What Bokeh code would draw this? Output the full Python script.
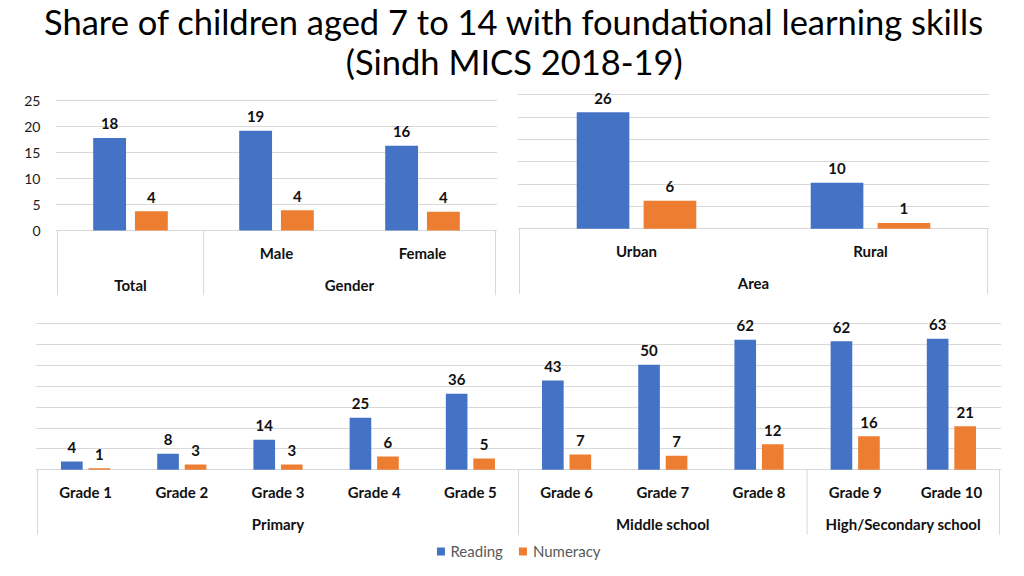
import numpy as np
from bokeh.plotting import figure
from bokeh.models import Range1d, FixedTicker, Grid, Legend, LegendItem
from bokeh.layouts import column, row
from bokeh.embed import file_html
from bokeh.resources import INLINE
from bokeh.core.properties import value

# ---------------- data ----------------
title_lines = ["Share of children aged 7 to 14 with foundational learning skills",
               "(Sindh MICS 2018-19)"]
series_names = ["Reading", "Numeracy"]

gender_subcats = ["", "Male", "Female"]
gender_groups = ["Total", "Gender"]
gender_group_sizes = [1, 2]
gender_reading = [17.8, 19.2, 16.3]
gender_numeracy = [3.7, 3.9, 3.6]
gender_ticks = [0, 5, 10, 15, 20, 25]

area_subcats = ["Urban", "Rural"]
area_groups = ["Area"]
area_group_sizes = [2]
area_reading = [26.1, 10.3]
area_numeracy = [6.3, 1.3]
area_ticks = [0, 5, 10, 15, 20, 25, 30]

grade_subcats = ["Grade 1", "Grade 2", "Grade 3", "Grade 4", "Grade 5",
                 "Grade 6", "Grade 7", "Grade 8", "Grade 9", "Grade 10"]
grade_groups = ["Primary", "Middle school", "High/Secondary school"]
grade_group_sizes = [5, 3, 2]
grade_reading = [4.0, 7.7, 14.4, 24.9, 36.4, 42.8, 50.3, 62.3, 61.6, 62.8]
grade_numeracy = [0.8, 2.6, 2.6, 6.4, 5.4, 7.3, 6.7, 12.3, 16.1, 20.9]
grade_ticks = [0, 10, 20, 30, 40, 50, 60, 70]

# ---------------- style ----------------
BLUE = "#4472C4"
ORANGE = "#ED7D31"
GRID = "#D9D9D9"
FONT = "Lato"
BAR_W = 0.225
BAR_OFF = 0.143
ROW1_PX = 22
ROW2_PX = 54
BOX_PX = 65
LABEL_PX = 14


def make_panel(width, height, bl, br, bt, bb, ppu, zero_from_bottom,
               subcats, groups, sizes, reading, numeracy, ticks, show_axis):
    n = len(subcats)
    frame_w = width - bl - br
    frame_h = height - bt - bb
    cat_px = (frame_w - 4) / n
    pad = 2 / cat_px
    y0 = -zero_from_bottom / ppu
    y1 = y0 + frame_h / ppu
    p = figure(width=width, height=height, output_backend="svg",
               toolbar_location=None,
               x_range=Range1d(-0.5 - pad, n - 0.5 + pad),
               y_range=Range1d(y0, y1),
               x_axis_location=None,
               y_axis_location="left" if show_axis else None,
               min_border_left=bl, min_border_right=br,
               min_border_top=bt, min_border_bottom=bb)
    p.outline_line_color = None
    p.background_fill_color = "white"
    p.border_fill_color = "white"
    for g in p.grid:
        g.visible = False
    if show_axis:
        ax = p.yaxis[0]
        ax.ticker = FixedTicker(ticks=ticks)
        ax.axis_line_color = None
        ax.major_tick_line_color = None
        ax.minor_tick_line_color = None
        ax.major_tick_out = 0
        ax.major_tick_in = 0
        ax.major_label_standoff = 15
        ax.major_label_text_font = FONT
        ax.major_label_text_font_size = "14px"
        ax.major_label_text_color = "#1a1a1a"
    p.add_layout(Grid(dimension=1, ticker=FixedTicker(ticks=ticks),
                      grid_line_color=GRID, grid_line_width=1))

    xs = np.arange(n)
    rr = p.vbar(x=xs - BAR_OFF, top=reading, width=BAR_W, bottom=0,
                fill_color=BLUE, line_color=None)
    rn = p.vbar(x=xs + BAR_OFF, top=numeracy, width=BAR_W, bottom=0,
                fill_color=ORANGE, line_color=None)

    lab_dy = LABEL_PX / ppu
    p.text(x=xs - BAR_OFF, y=np.array(reading) + lab_dy,
           text=["%.0f" % v for v in reading],
           text_font=value(FONT), text_font_style="bold", text_font_size="15px",
           text_align="center", text_baseline="middle", text_color="#111111")
    p.text(x=xs + BAR_OFF, y=np.array(numeracy) + lab_dy,
           text=["%.0f" % v for v in numeracy],
           text_font=value(FONT), text_font_style="bold", text_font_size="15px",
           text_align="center", text_baseline="middle", text_color="#111111")

    # category labels (first row)
    p.text(x=xs, y=[-ROW1_PX / ppu] * n, text=subcats,
           text_font=value(FONT), text_font_style="bold", text_font_size="15px",
           text_align="center", text_baseline="middle", text_color="#111111")
    # group labels (second row) and box separators
    edges = np.concatenate([[0], np.cumsum(sizes)]) - 0.5
    centers = (edges[:-1] + edges[1:]) / 2
    p.text(x=centers, y=[-ROW2_PX / ppu] * len(groups), text=groups,
           text_font=value(FONT), text_font_style="bold", text_font_size="15px",
           text_align="center", text_baseline="middle", text_color="#111111")
    p.segment(x0=edges, y0=[0] * len(edges), x1=edges,
              y1=[-BOX_PX / ppu] * len(edges), line_color=GRID, line_width=1)
    return p, rr, rn


# title figure (data units = pixels)
title_fig = figure(width=1016, height=90, output_backend="svg", toolbar_location=None,
                   x_range=Range1d(0, 1016), y_range=Range1d(0, 90),
                   x_axis_location=None, y_axis_location=None, min_border=0)
title_fig.outline_line_color = None
for g in title_fig.grid:
    g.visible = False
title_fig.text(x=[503.5, 503.5], y=[69, 29], text=title_lines,
               text_font=value(FONT), text_font_size="34.5px",
               text_align="center", text_baseline="alphabetic", text_color="#000000")

tl, _, _ = make_panel(510, 210, 55, 13, 0, 5, 5.2, 65,
                      gender_subcats, gender_groups, gender_group_sizes,
                      gender_reading, gender_numeracy, gender_ticks, True)
tr, _, _ = make_panel(506, 210, 7, 27, 0, 5, 4.467, 66.7,
                      area_subcats, area_groups, area_group_sizes,
                      area_reading, area_numeracy, area_ticks, False)
bt, r_read, r_num = make_panel(1016, 268, 35, 15, 5, 2, 2.086, 96.7,
                               grade_subcats, grade_groups, grade_group_sizes,
                               grade_reading, grade_numeracy, grade_ticks, False)

legend = Legend(items=[LegendItem(label=series_names[0], renderers=[r_read]),
                       LegendItem(label=series_names[1], renderers=[r_num])],
                location="bottom_center", orientation="horizontal",
                glyph_width=10, glyph_height=10, label_standoff=5, spacing=15,
                padding=0, margin=6, border_line_color=None,
                background_fill_alpha=0,
                label_text_font=FONT, label_text_font_size="15px",
                label_text_color="#595959")
bt.add_layout(legend)

layout = column(title_fig, row(tl, tr), bt)
open("out.html", "w").write(file_html(layout, INLINE))
